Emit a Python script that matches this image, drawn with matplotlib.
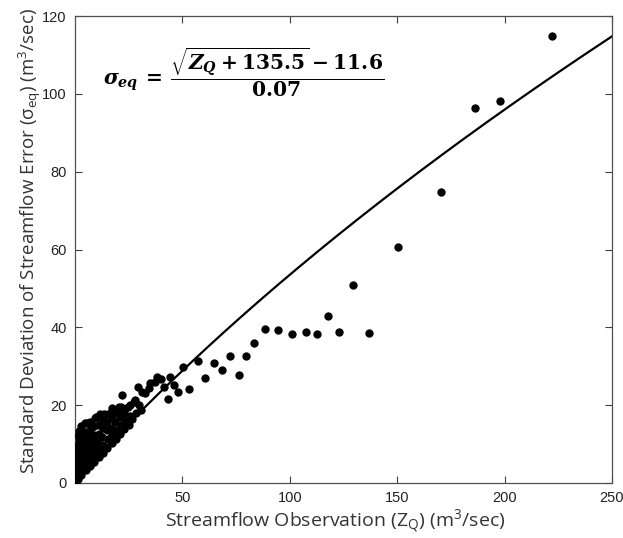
import matplotlib
matplotlib.use("Agg")
import matplotlib.pyplot as plt
import numpy as np

# =========================
# Data
# =========================

# sparse points away from the origin: observed Z_Q and sigma_eq (m3/sec)
tail_z = [
    222.0, 198.0, 186.0, 170.5, 150.5, 137.0, 129.5, 123.0, 118.0, 112.5,
    107.5, 101.0, 94.5, 88.5, 83.5, 79.8, 76.3, 72.3, 68.5, 64.6,
    60.6, 57.2, 52.9, 50.1, 48.0, 46.0, 44.3, 43.3, 41.3, 40.0,
    38.0, 37.3, 35.0, 34.5, 32.8, 31.0, 30.9, 29.3, 28.0, 27.5,
    25.5, 24.8, 22.0, 22.8, 20.5, 19.0, 17.1, 11.6, 9.8, 5.4,
]
tail_sigma = [
    114.8, 98.2, 96.4, 74.7, 60.6, 38.6, 51.0, 38.8, 42.8, 38.2,
    38.8, 38.2, 39.4, 39.7, 36.1, 32.6, 27.7, 32.6, 29.0, 30.8,
    27.1, 31.4, 24.1, 29.7, 23.5, 25.2, 27.3, 21.5, 24.7, 26.8,
    27.2, 25.9, 25.6, 24.4, 23.0, 23.5, 18.8, 24.7, 21.4, 20.9,
    20.0, 19.6, 22.6, 17.8, 19.5, 18.2, 19.2, 17.8, 17.0, 15.3,
]

# dense cloud near the origin
cloud_z = [
    0.3, 0.3, 0.4, 0.4, 0.5, 0.5, 0.6, 0.6, 0.8, 0.9, 1.0, 1.1, 1.2,
    1.6, 1.5, 1.7, 1.6, 1.8, 1.5, 1.7, 1.6, 1.9,
    3.0, 3.1, 2.9, 3.2, 3.0, 2.8, 3.1, 3.3, 3.0,
    5.0, 4.8, 5.2, 5.1, 4.9, 5.0, 5.3, 4.7,
    7.0, 7.2, 6.9, 7.1, 6.8, 7.0, 7.3, 6.9,
    9.0, 9.2, 8.8, 9.1, 9.0, 8.9, 9.3,
    11.0, 11.2, 10.8, 11.1, 11.3, 10.9,
    13.0, 13.2, 12.8, 13.1, 12.9, 13.3,
    15.0, 15.2, 14.8, 15.1, 15.3,
    17.0, 17.2, 16.8, 17.1, 17.3,
    19.0, 19.3, 18.8, 19.2,
    21.0, 21.3, 20.8, 21.2,
    23.0, 23.3, 22.8,
    25.0, 25.4, 26.5, 28.5, 30.0,
]
cloud_sigma = [
    0.2, 1.2, 2.1, 3.0, 3.9, 4.8, 5.7, 6.5, 7.4, 8.2, 9.0, 9.6, 8.8,
    1.0, 2.6, 4.2, 5.8, 7.4, 9.0, 10.6, 12.0, 13.4,
    2.0, 3.6, 5.3, 7.0, 8.6, 10.2, 11.8, 13.3, 14.6,
    3.3, 5.0, 6.7, 8.4, 10.0, 11.6, 13.2, 15.3,
    4.3, 6.0, 7.7, 9.4, 11.0, 12.6, 14.2, 15.8,
    5.5, 7.3, 9.0, 10.7, 12.4, 14.6, 16.6,
    6.6, 8.4, 10.4, 12.6, 15.0, 17.0,
    7.8, 9.8, 11.8, 14.2, 16.2, 17.8,
    9.0, 11.2, 13.6, 15.6, 17.8,
    10.2, 12.4, 14.2, 16.8, 18.6,
    11.4, 13.6, 15.8, 18.2,
    12.6, 14.8, 17.0, 19.6,
    13.8, 16.0, 18.6,
    15.0, 17.2, 16.4, 18.0, 20.0,
]

# fitted relation shown on the chart: sigma = (sqrt(Z + A) - B) / C
FIT_A = 135.5
FIT_B = 11.6
FIT_C = 0.07
FIT_ZMAX = 250

X_TICKS = [50, 100, 150, 200, 250]
Y_TICKS = [0, 20, 40, 60, 80, 100, 120]

# =========================
# Plot
# =========================

plt.rcParams["font.family"] = ["Open Sans", "DejaVu Sans"]
plt.rcParams["mathtext.fontset"] = "custom"
plt.rcParams["mathtext.rm"] = "DejaVu Serif:bold"
plt.rcParams["mathtext.it"] = "DejaVu Serif:italic:bold"
plt.rcParams["mathtext.bf"] = "DejaVu Serif:bold"

fig = plt.figure(figsize=(6.23, 5.38), dpi=100)
ax = fig.add_axes([75 / 623, 55 / 538, 537 / 623, 467 / 538])

obs_z = tail_z + cloud_z
sigma_err = tail_sigma + cloud_sigma
ax.scatter(obs_z, sigma_err, s=36, color="black", linewidths=0, zorder=3)

zfit = np.linspace(0, FIT_ZMAX, 400)
sfit = (np.sqrt(zfit + FIT_A) - FIT_B) / FIT_C
ax.plot(zfit, sfit, color="black", lw=1.6, zorder=2)

ax.set_xlim(0, 250)
ax.set_ylim(0, 120)
ax.set_xticks(X_TICKS)
ax.set_yticks(Y_TICKS)
ax.tick_params(direction="in", top=True, right=True, length=5, width=0.8,
               color="#404040", labelsize=10.5, labelcolor="#222222", pad=6)
for lab in ax.get_xticklabels() + ax.get_yticklabels():
    lab.set_family("Liberation Sans")
for sp in ax.spines.values():
    sp.set_color("#505050")
    sp.set_linewidth(0.9)

ax.set_xlabel(r"Streamflow Observation ($\mathregular{Z_Q}$) ($\mathregular{m^3}$/sec)",
              fontsize=14, color="#333333")
ax.xaxis.set_label_coords(0.484, -0.052)
ax.set_ylabel(r"Standard Deviation of Streamflow Error ($\mathregular{\sigma_{eq}}$) ($\mathregular{m^3}$/sec)",
              fontsize=13.5, color="#333333")
ax.yaxis.set_label_coords(-0.06, 0.517)

ax.text(0.052, 0.88,
        r"$\sigma_{eq}\,=\,\dfrac{\sqrt{Z_Q+135.5}-11.6}{0.07}$",
        transform=ax.transAxes, fontsize=14.6, color="black",
        ha="left", va="center")

fig.savefig("out.png", dpi=100)
